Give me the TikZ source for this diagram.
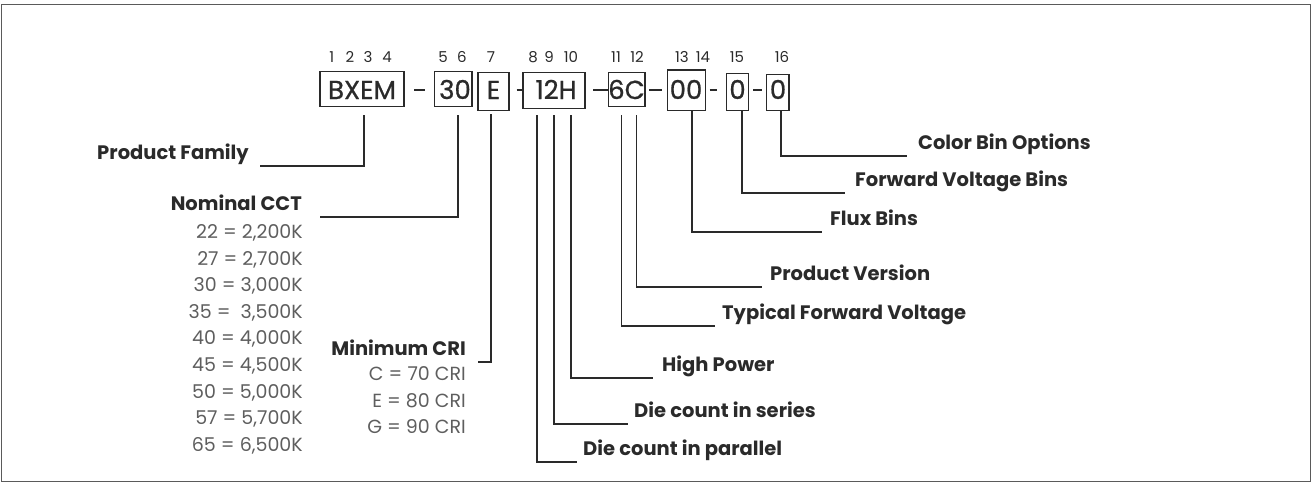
\documentclass[tikz,border=0pt]{standalone}
\usepackage{fontspec}
\setmainfont{Poppins}
\newfontfamily\medfont[FakeBold=0.8]{Poppins}
\definecolor{framec}{HTML}{5A5A5A}
\definecolor{inkc}{HTML}{2A2A2A}
\definecolor{listc}{HTML}{5E5E5E}
\begin{document}
\begin{tikzpicture}[x=1pt,y=-1pt,
  box/.style={draw=inkc, line width=1.1pt, inner sep=0pt},
  code/.style={inner sep=0pt, anchor=base, text=inkc, font=\medfont\fontsize{26}{30}\selectfont},
  digit/.style={inner sep=0pt, anchor=base, text=inkc, font=\fontsize{15}{18}\selectfont},
  rlabel/.style={inner sep=0pt, anchor=base west, text=inkc, font=\bfseries\fontsize{19.5}{23}\selectfont},
  llabel/.style={inner sep=0pt, anchor=base east, text=inkc, font=\bfseries\fontsize{19.5}{23}\selectfont},
  listtxt/.style={inner sep=0pt, anchor=base east, text=listc, font=\fontsize{19}{22}\selectfont},
  conn/.style={draw=inkc, line width=1.1pt},
  dashline/.style={draw=inkc, line width=1.8pt}
]
\useasboundingbox (0,0) rectangle (1312,483);
\draw[framec, line width=1.5pt] (1.5,4.5) rectangle (1310.5,481.5);

% boxes
\node[box, minimum width=84pt, minimum height=35pt] (bA) at (362,89.2) {};
\node[box, minimum width=37.3pt, minimum height=35pt] (bB) at (453.3,89.2) {};
\node[box, minimum width=31pt, minimum height=38.4pt] (bC) at (493.5,91.5) {};
\node[box, minimum width=62pt, minimum height=36pt] (bD) at (554,90.3) {};
\node[box, minimum width=36.3pt, minimum height=33.7pt] (bE) at (626.8,89.2) {};
\node[box, minimum width=38pt, minimum height=40.7pt] (bF) at (686.7,90.3) {};
\node[box, minimum width=21.6pt, minimum height=37.4pt] (bG) at (737.5,92) {};
\node[box, minimum width=22.3pt, minimum height=36.4pt] (bH) at (777.8,92.5) {};

% box texts
\node[code] (tA) at (362,99) {BXEM};
\node[code] (tB) at (455,99) {30};
\node[code] (tC) at (493.5,99) {E};
\node[code] (tD) at (556,99) {12H};
\node[code] (tE) at (626.5,99) {6C};
\node[code] (tF) at (686,99) {00};
\node[code] (tG) at (737.5,99) {0};
\node[code] (tH) at (778,99) {0};

% helper coordinates
\coordinate (yd) at (0,90);
\coordinate (xF) at (692,0);
\coordinate (xG) at (742,0);
\coordinate (xH) at (781,0);

% dashes
\draw[dashline] (414,90) -- (425,90);
\draw[dashline] (516.7,90) -- (bD.west |- yd);
\draw[dashline] (593,90) -- (bE.west |- yd);
\draw[dashline] (649,90) -- (662,90);
\draw[dashline] (709.5,90) -- (717,90);
\draw[dashline] (753,90) -- (761.5,90);

% digit labels
\foreach \n/\x in {1/331.7,2/350,3/368,4/387,5/443,6/462,7/491,8/533,9/549,10/571,11/616,12/637,13/682,14/703,15/737,16/782}
  \node[digit] (d\n) at (\x,62) {\n};

% left labels
\node[llabel] (lPF) at (249,159) {Product Family};
\node[llabel] (lNC) at (302,210) {Nominal CCT};
\node[llabel] (lMC) at (466,355) {Minimum CRI};

\foreach \t/\y [count=\i] in {22 = 2{,}200K/238.5,27 = 2{,}700K/265,30 = 3{,}000K/291.5,35 =\ \ 3{,}500K/318.5,40 = 4{,}000K/344.5,45 = 4{,}500K/371.5,50 = 5{,}000K/398.5,57 = 5{,}700K/424.5,65 = 6{,}500K/451.5}
  \node[listtxt] (k\i) at (303,\y) {\t};

\node[listtxt] (c1) at (466,380.5) {C = 70 CRI};
\node[listtxt] (c2) at (466,407.5) {E = 80 CRI};
\node[listtxt] (c3) at (466,433.5) {G = 90 CRI};

% right labels
\node[rlabel] (rCB) at (918,149) {Color Bin Options};
\node[rlabel] (rFV) at (855,186) {Forward Voltage Bins};
\node[rlabel] (rFX) at (830,225) {Flux Bins};
\node[rlabel] (rPV) at (770,280) {Product Version};
\node[rlabel] (rTF) at (722,319) {Typical Forward Voltage};
\node[rlabel] (rHP) at (662,371) {High Power};
\node[rlabel] (rDS) at (634,417) {Die count in series};
\node[rlabel] (rDP) at (583,455) {Die count in parallel};

% connectors
\draw[conn] (364,115) |- ([xshift=11pt,yshift=-7pt]lPF.base east);
\draw[conn] (458,115) |- ([xshift=18pt,yshift=-7pt]lNC.base east);
\draw[conn] (491,114) |- ([xshift=12pt,yshift=-7pt]lMC.base east);
\draw[conn] (537,115) |- ([xshift=-6pt,yshift=-7pt]rDP.base west);
\draw[conn] (554,115) |- ([xshift=-6pt,yshift=-7pt]rDS.base west);
\draw[conn] (571,115) |- ([xshift=-9pt,yshift=-7pt]rHP.base west);
\draw[conn] (621.5,115) |- ([xshift=-7pt,yshift=-7pt]rTF.base west);
\draw[conn] (636.5,115) |- ([xshift=-8pt,yshift=-7pt]rPV.base west);
\draw[conn] (bF.south -| xF) |- ([xshift=-8pt,yshift=-7pt]rFX.base west);
\draw[conn] (bG.south -| xG) |- ([xshift=-10pt,yshift=-7pt]rFV.base west);
\draw[conn] (bH.south -| xH) |- ([xshift=-11pt,yshift=-7pt]rCB.base west);
\end{tikzpicture}
\end{document}
